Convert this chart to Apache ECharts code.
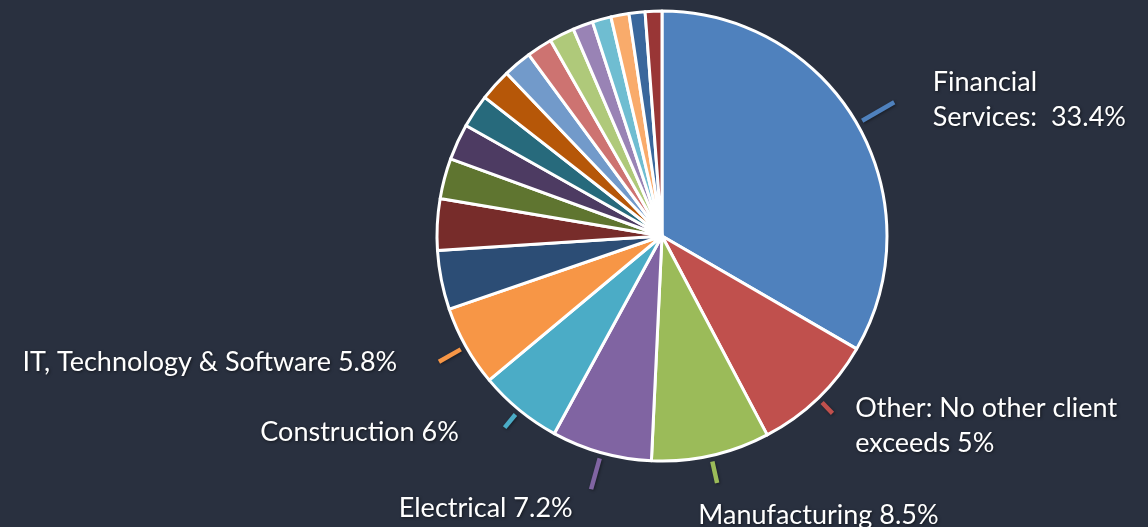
<!DOCTYPE html>
<html>
<head>
<meta charset="utf-8">
<script src="https://cdn.jsdelivr.net/npm/echarts@6/dist/echarts.min.js"></script>
<style>
html,body{margin:0;padding:0;background:#29303f;}
#c{width:1148px;height:527px;}
</style>
</head>
<body>
<div id="c"></div>
<script>
// ---- data ----
const categories = ['Financial Services','Other','Manufacturing','Electrical','Construction','IT, Technology & Software',
  'Sector 7','Sector 8','Sector 9','Sector 10','Sector 11','Sector 12','Sector 13','Sector 14',
  'Sector 15','Sector 16','Sector 17','Sector 18','Sector 19','Sector 20'];
const values = [33.4, 8.9, 8.5, 7.2, 6.0, 5.8, 4.25, 3.7, 2.9, 2.6, 2.4, 2.3, 2.05, 1.85, 1.8, 1.45, 1.35, 1.3, 1.15, 1.2];
const labelTexts = ['Financial\nServices:  33.4%', 'Other: No other client\nexceeds 5%', 'Manufacturing 8.5%',
  'Electrical 7.2%', 'Construction 6%', 'IT, Technology & Software 5.8%'];

// ---- styles ----
const colors = ['#4F81BD','#C0504D','#9BBB59','#8064A2','#4BACC6','#F79646',
  '#2C4D75','#772C2A','#5F7530','#4D3B62','#276A7C','#B65708',
  '#729ACA','#CD7371','#AFC97A','#9983B5','#6FBDD1','#F9AB6B','#3A679C','#993636'];
const center = [662, 236];
const R = 225;
const lineStartR = 231;
const tickLen = [37, 15, 22, 32, 17, 25];
const textLen = [47, 38, 61, 58, 29, 33];
const textLen2 = [30, 6, -31, 8, 37, 35];

const mainData = categories.map((n, i) => ({
  name: n, value: values[i],
  itemStyle: {color: colors[i]},
  label: i < labelTexts.length ? {show: true} : {show: false},
  labelLine: i < labelTexts.length ? {length: textLen[i], length2: textLen2[i]} : {}
}));
const tickData = categories.map((n, i) => ({
  name: n, value: values[i],
  label: {show: i < labelTexts.length},
  labelLine: i < labelTexts.length ? {show: true, length: tickLen[i], length2: 0,
     lineStyle: {color: colors[i], width: 4.5, shadowColor: 'rgba(0,0,0,0.4)', shadowBlur: 3, shadowOffsetX: 1, shadowOffsetY: 1}} : {show: false}
}));

const chart = echarts.init(document.getElementById('c'), null, {renderer: 'canvas'});
chart.setOption({
  backgroundColor: '#29303f',
  animation: false,
  series: [
    {
      type: 'pie', silent: true, z: 1,
      center: center, radius: [0, lineStartR],
      startAngle: 90, clockwise: true,
      avoidLabelOverlap: false,
      itemStyle: {color: 'rgba(0,0,0,0)', borderWidth: 0},
      label: {position: 'outside', formatter: ' ', color: 'rgba(0,0,0,0)', fontSize: 10},
      labelLine: {show: true, length: 20, length2: 0},
      emphasis: {disabled: true},
      data: tickData
    },
    {
      type: 'pie', z: 2,
      center: center, radius: [0, R],
      startAngle: 90, clockwise: true,
      avoidLabelOverlap: false,
      itemStyle: {borderColor: '#ffffff', borderWidth: 3},
      label: {
        position: 'outside',
        formatter: p => labelTexts[p.dataIndex] || '',
        color: '#ffffff',
        fontFamily: 'Lato',
        fontSize: 27,
        lineHeight: 35,
        distanceToLabelLine: 5,
        textShadowColor: 'rgba(0,0,0,0.55)', textShadowBlur: 3, textShadowOffsetX: 1, textShadowOffsetY: 1
      },
      labelLine: {show: false},
      emphasis: {disabled: true},
      data: mainData
    }
  ]
});
</script>
</body>
</html>
